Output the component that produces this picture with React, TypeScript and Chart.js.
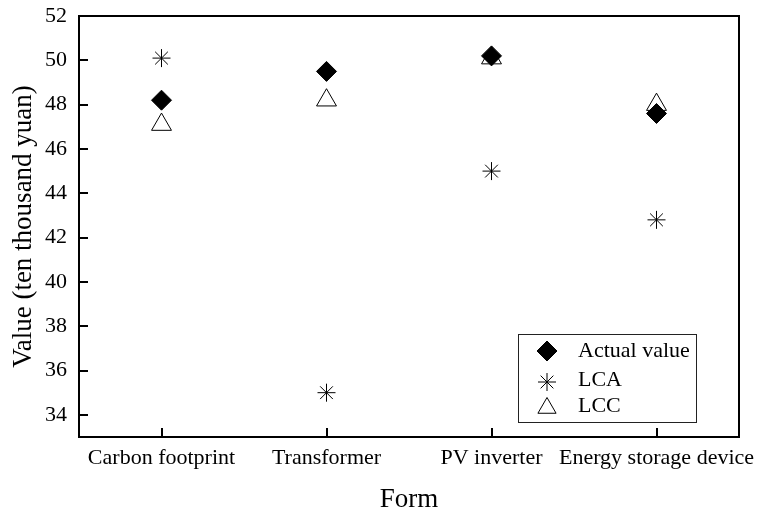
import React, { useEffect, useRef } from "react";
import { Chart, registerables } from "chart.js";
import { drawPoint } from "chart.js/helpers";

Chart.register(...registerables);

const categories = ["Carbon footprint", "Transformer", "PV inverter", "Energy storage device"];
const actualValues = [48.2, 49.5, 50.2, 47.6];
const lcaValues = [50.1, 35.0, 45.0, 42.8];
const lccValues = [47.1, 48.2, 50.1, 48.0];
const yTickValues = [34, 36, 38, 40, 42, 44, 46, 48, 50, 52];
const seriesNames = ["Actual value", "LCA", "LCC"];

const FONT = "'Liberation Serif', 'Times New Roman', serif";

const framePlugin = {
  id: "frame",
  beforeDatasetsDraw(chart: any) {
    const { ctx, chartArea, scales } = chart;
    const { left, right, top, bottom } = chartArea;
    ctx.save();
    ctx.strokeStyle = "#000";
    ctx.lineWidth = 2;
    ctx.strokeRect(left, top, right - left, bottom - top);
    ctx.beginPath();
    for (const t of scales.y.ticks) {
      const y = Math.round(scales.y.getPixelForValue(t.value));
      ctx.moveTo(left, y);
      ctx.lineTo(left + 9, y);
    }
    for (let i = 0; i < categories.length; i++) {
      const x = Math.round(scales.x.getPixelForValue(i));
      ctx.moveTo(x, bottom);
      ctx.lineTo(x, bottom - 9);
    }
    ctx.stroke();
    ctx.restore();
  },
};

const legendPlugin = {
  id: "boxLegend",
  afterDraw(chart: any) {
    const { ctx, chartArea } = chart;
    const bx = chartArea.right - 221;
    const by = chartArea.bottom - 103;
    const bw = 178;
    const bh = 88;
    ctx.save();
    ctx.fillStyle = "#fff";
    ctx.fillRect(bx, by, bw, bh);
    ctx.strokeStyle = "#222";
    ctx.lineWidth = 1;
    ctx.strokeRect(bx + 0.5, by + 0.5, bw, bh);
    const rows = [17, 48, 72];
    const baselines = [23, 52, 78];
    chart.data.datasets.forEach((ds: any, i: number) => {
      ctx.fillStyle = ds.pointBackgroundColor;
      ctx.strokeStyle = ds.pointBorderColor;
      ctx.lineWidth = 1;
      drawPoint(
        ctx,
        {
          pointStyle: ds.pointStyle,
          radius: ds.pointStyle === "triangle" ? 10.5 : ds.pointStyle === "star" ? 9 : 10,
          borderWidth: 1,
          rotation: 0,
        } as any,
        bx + 29,
        by + rows[i] + (ds.pointStyle === "triangle" ? 2 : 0)
      );
      ctx.fillStyle = "#000";
      ctx.font = `22px ${FONT}`;
      ctx.textAlign = "left";
      ctx.textBaseline = "alphabetic";
      ctx.fillText(seriesNames[i], bx + 60, by + baselines[i]);
    });
    ctx.restore();
  },
};

export default function App() {
  const canvasRef = useRef<HTMLCanvasElement | null>(null);

  useEffect(() => {
    document.body.style.margin = "0";
    const canvas = canvasRef.current;
    if (!canvas) return;
    const chart = new Chart(canvas, {
      type: "line",
      data: {
        labels: categories,
        datasets: [
          {
            label: seriesNames[0],
            data: actualValues,
            showLine: false,
            pointStyle: "rectRot",
            pointRadius: 10,
            pointBackgroundColor: "#000",
            pointBorderColor: "#000",
            pointBorderWidth: 1,
          },
          {
            label: seriesNames[1],
            data: lcaValues,
            showLine: false,
            pointStyle: "star",
            pointRadius: 9,
            pointBackgroundColor: "#000",
            pointBorderColor: "#000",
            pointBorderWidth: 1,
          },
          {
            label: seriesNames[2],
            data: lccValues,
            showLine: false,
            pointStyle: "triangle",
            pointRadius: 11.5,
            pointBackgroundColor: "#fff",
            pointBorderColor: "#000",
            pointBorderWidth: 1,
          },
        ],
      },
      options: {
        responsive: false,
        animation: false,
        events: [],
        layout: { padding: { top: 16, right: 19, left: 0, bottom: 0 } },
        plugins: {
          legend: { display: false },
          tooltip: { enabled: false },
        },
        scales: {
          x: {
            type: "category",
            offset: true,
            grid: { display: false, drawTicks: false },
            border: { display: false },
            ticks: {
              color: "#000",
              font: { family: FONT, size: 22 },
              padding: 8,
              maxRotation: 0,
              autoSkip: false,
            },
            title: {
              display: true,
              text: "Form",
              color: "#000",
              font: { family: FONT, size: 27, lineHeight: 1 },
              padding: { top: 0, bottom: 0 },
            },
            afterFit: (s: any) => {
              s.height = 76;
              s.paddingLeft = 0;
              s.paddingRight = 0;
            },
          },
          y: {
            type: "linear",
            min: 33,
            max: 52,
            grid: { display: false, drawTicks: false },
            border: { display: false },
            ticks: {
              color: "#000",
              font: { family: FONT, size: 22 },
              padding: 12,
            },
            afterBuildTicks: (s: any) => {
              s.ticks = yTickValues.map((v) => ({ value: v }));
            },
            title: {
              display: true,
              text: "Value (ten thousand yuan)",
              color: "#000",
              font: { family: FONT, size: 27, lineHeight: 1 },
              padding: { top: 10, bottom: 0 },
            },
            afterFit: (s: any) => {
              s.width = 79;
              s.paddingTop = 0;
              s.paddingBottom = 0;
            },
          },
        },
      },
      plugins: [framePlugin, legendPlugin],
    });
    return () => chart.destroy();
  }, []);

  return (
    <div style={{ width: 758, height: 513 }}>
      <canvas ref={canvasRef} width={758} height={513} style={{ display: "block" }} />
    </div>
  );
}
